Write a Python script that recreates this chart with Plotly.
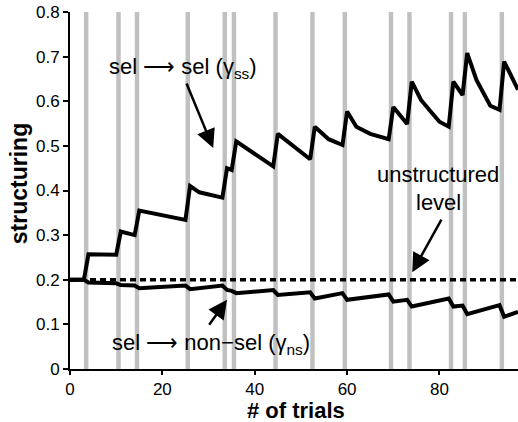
import plotly.graph_objects as go

# Trials on which a selection event occurred (bars sit between trial t-1 and t)
event_trials = [4, 11, 15, 26, 34, 36, 45, 53, 60, 70, 74, 83, 86, 94]

# sel -> sel structuring (gamma_ss), vertices per trial
ss_trial = [0, 3, 4, 10, 11, 14, 15, 25, 26, 28, 33, 34, 35, 36, 44, 45, 52, 53,
            56, 59, 60, 62, 65, 69, 70, 73, 74, 76, 78, 80, 82, 83, 85, 86, 88,
            90, 91, 93, 94, 97]
ss_value = [0.200, 0.200, 0.257, 0.256, 0.308, 0.300, 0.355, 0.334, 0.410, 0.396,
            0.384, 0.450, 0.446, 0.510, 0.454, 0.527, 0.470, 0.543, 0.515, 0.502,
            0.577, 0.543, 0.527, 0.515, 0.587, 0.549, 0.644, 0.603, 0.578, 0.554,
            0.543, 0.644, 0.614, 0.708, 0.648, 0.607, 0.590, 0.581, 0.689, 0.626]

# sel -> non-sel structuring (gamma_ns)
ns_trial = [0, 3, 4, 10, 11, 14, 15, 25, 26, 33, 34, 35, 36, 44, 45, 52, 53, 59,
            60, 69, 70, 73, 74, 82, 83, 85, 86, 93, 94, 97]
ns_value = [0.200, 0.200, 0.194, 0.192, 0.188, 0.187, 0.181, 0.187, 0.179, 0.187,
            0.177, 0.175, 0.170, 0.177, 0.166, 0.172, 0.158, 0.170, 0.155, 0.167,
            0.151, 0.155, 0.140, 0.158, 0.140, 0.142, 0.123, 0.143, 0.117, 0.128]

unstructured_level = 0.2
x_range = [0, 97]
y_range = [0, 0.8]
x_ticks = [0, 20, 40, 60, 80]
y_ticks = [0, 0.1, 0.2, 0.3, 0.4, 0.5, 0.6, 0.7, 0.8]
y_ticklabels = ["0", "0.1", "0.2", "0.3", "0.4", "0.5", "0.6", "0.7", "0.8"]

FONT = "Liberation Sans, Arial, Helvetica, sans-serif"
ARROW = "\u27f6"

fig = go.Figure()

# grey event bars
shapes = []
for t in event_trials:
    shapes.append(dict(type="rect", xref="x", yref="y",
                       x0=t - 0.5 - 0.48, x1=t - 0.5 + 0.48,
                       y0=y_range[0], y1=y_range[1],
                       fillcolor="#c0c0c0", line=dict(width=0), layer="below"))

fig.add_trace(go.Scatter(x=x_range, y=[unstructured_level] * 2, mode="lines",
                         line=dict(color="black", width=3.5, dash="6px,4px"),
                         hoverinfo="skip", showlegend=False))
fig.add_trace(go.Scatter(x=ns_trial, y=ns_value, mode="lines",
                         line=dict(color="black", width=4), showlegend=False))
fig.add_trace(go.Scatter(x=ss_trial, y=ss_value, mode="lines",
                         line=dict(color="black", width=4), showlegend=False))

arrow_style = dict(xref="x", yref="y", axref="x", ayref="y", text="",
                   showarrow=True, arrowhead=2, arrowsize=1.5, arrowwidth=2.5,
                   arrowcolor="black", standoff=0)

annotations = [
    dict(x=24.5, y=0.675, xref="x", yref="y", showarrow=False,
         xanchor="center", yanchor="middle",
         text=f"sel {ARROW} sel (\u03b3<sub>ss</sub>)", font=dict(size=22)),
    dict(x=79.7, y=0.435, xref="x", yref="y", showarrow=False,
         xanchor="center", yanchor="middle",
         text="unstructured", font=dict(size=22)),
    dict(x=79.7, y=0.374, xref="x", yref="y", showarrow=False,
         xanchor="center", yanchor="middle",
         text="level", font=dict(size=22)),
    dict(x=30.6, y=0.055, xref="x", yref="y", showarrow=False,
         xanchor="center", yanchor="middle",
         text=f"sel {ARROW} non\u2212sel (\u03b3<sub>ns</sub>)", font=dict(size=22)),
    # arrows
    dict(x=31.0, y=0.495, ax=25.1, ay=0.643, **arrow_style),
    dict(x=74.1, y=0.217, ax=80.6, ay=0.338, **arrow_style),
    dict(x=34.0, y=0.155, ax=29.9, ay=0.096, **arrow_style),
    # axis titles
    dict(x=0.504, y=-0.117, xref="paper", yref="paper", showarrow=False,
         xanchor="center", yanchor="middle",
         text="<b># of trials</b>", font=dict(size=22)),
    dict(x=-0.112, y=0.52, xref="paper", yref="paper", showarrow=False,
         xanchor="center", yanchor="middle",
         text="<b>structuring</b>", textangle=-90, font=dict(size=23)),
]

fig.update_layout(
    width=518, height=422,
    margin=dict(l=70, r=0, t=12, b=53),
    paper_bgcolor="white", plot_bgcolor="white",
    font=dict(family=FONT, color="black"),
    shapes=shapes, annotations=annotations,
    xaxis=dict(range=x_range, tickvals=x_ticks, showgrid=False, zeroline=False,
               showline=True, linecolor="black", linewidth=2,
               ticks="outside", ticklen=4, tickwidth=2, tickcolor="black",
               tickfont=dict(size=17)),
    yaxis=dict(range=y_range, tickvals=y_ticks, ticktext=y_ticklabels,
               showgrid=False, zeroline=False,
               showline=True, linecolor="black", linewidth=2,
               ticks="outside", ticklen=5, tickwidth=2, tickcolor="black",
               tickfont=dict(size=17)),
)

fig.write_html("out.html")
